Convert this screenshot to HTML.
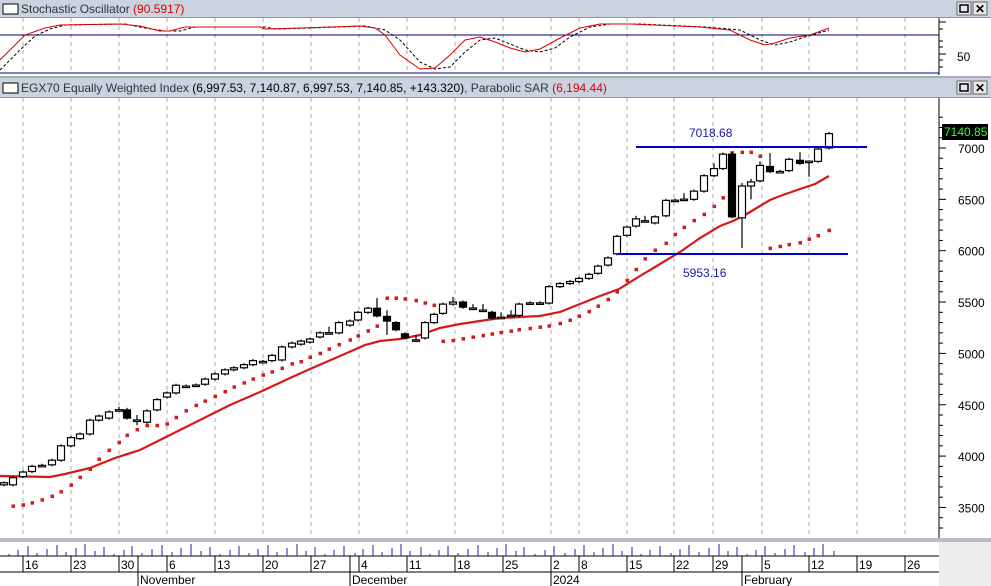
<!DOCTYPE html>
<html><head><meta charset="utf-8"><style>
body{margin:0;background:#fff;overflow:hidden}
svg{display:block;font-family:"Liberation Sans",sans-serif}
</style></head><body>
<svg id="s" width="991" height="586" viewBox="0 0 991 586" xmlns="http://www.w3.org/2000/svg">
<rect width="991" height="586" fill="#fff"/>
<rect x="0" y="0" width="991" height="17" fill="#c9d4e0"/>
<rect x="0" y="17" width="991" height="1" fill="#8a96a4"/>
<rect x="3" y="4" width="15" height="10" fill="#fff" stroke="#000"/>
<text x="21" y="13" font-size="12" fill="#333">Stochastic Oscillator <tspan fill="#d00">(90.5917)</tspan></text>
<rect x="957" y="2" width="14" height="13" fill="#e8e8e8" stroke="#666"/><rect x="960" y="5" width="8" height="7" fill="none" stroke="#000" stroke-width="1.5"/>
<rect x="973" y="2" width="14" height="13" fill="#e8e8e8" stroke="#666"/><text x="975" y="13" font-size="12" font-weight="bold">✕</text>
<rect x="0" y="76" width="991" height="2" fill="#aab"/>
<rect x="0" y="78" width="991" height="19" fill="#c9d4e0"/>
<rect x="0" y="97" width="991" height="1" fill="#8a96a4"/>
<rect x="3" y="83" width="15" height="10" fill="#fff" stroke="#000"/>
<text x="21" y="92" font-size="12" fill="#333">EGX70 Equally Weighted Index <tspan fill="#000">(6,997.53, 7,140.87, 6,997.53, 7,140.85, +143.320)</tspan>, Parabolic SAR <tspan fill="#d00">(6,194.44)</tspan></text>
<rect x="957" y="81" width="14" height="13" fill="#e8e8e8" stroke="#666"/><rect x="960" y="84" width="8" height="7" fill="none" stroke="#000" stroke-width="1.5"/>
<rect x="973" y="81" width="14" height="13" fill="#e8e8e8" stroke="#666"/><text x="975" y="92" font-size="12" font-weight="bold">✕</text>
<g id="grid" stroke="#aaa" stroke-dasharray="4,4" stroke-width="1"></g>
<line x1="0" y1="35" x2="939" y2="35" stroke="#000080"/>
<line x1="0" y1="73" x2="939" y2="73" stroke="#000080"/>
<line x1="939" y1="18" x2="939" y2="75" stroke="#000"/>
<g stroke="#000"><line x1="939" y1="22" x2="946" y2="22"/><line x1="939" y1="29" x2="943" y2="29"/><line x1="939" y1="41" x2="943" y2="41"/><line x1="939" y1="47" x2="943" y2="47"/><line x1="939" y1="54" x2="946" y2="54"/><line x1="939" y1="60" x2="943" y2="60"/><line x1="939" y1="67" x2="943" y2="67"/></g>
<text x="957" y="61" font-size="12">50</text>
<polyline fill="none" stroke="#000" stroke-dasharray="3,2" points="0,70 20,50 35,36 50,29 65,25 125,24 145,28 165,31 180,31 195,27 265,27 275,29 310,28 365,26 385,30 400,40 420,62 435,69 450,67 465,52 480,40 495,38 510,44 525,50 540,52 555,48 570,37 590,27 610,24 640,24 705,27 740,30 760,40 775,45 790,42 805,37 829,30"/>
<polyline fill="none" stroke="#d00" points="0,60 12,48 25,35 45,28 60,25 120,24 140,26 160,31 170,31 185,27 260,27 265,29 300,28 360,26 375,28 385,35 400,55 420,69 435,68 450,55 465,40 480,37 495,42 510,48 525,52 540,49 560,38 580,28 600,24 630,24 700,27 730,30 750,40 765,45 775,43 790,38 810,35 829,28"/>
<line x1="939" y1="98" x2="939" y2="540" stroke="#000"/>
<g id="yax"></g>
<g id="main"></g>
<rect x="0" y="538" width="991" height="4" fill="#b8bcc4"/>
<rect x="939" y="542" width="52" height="44" fill="#ececec"/>
<line x1="0" y1="556" x2="939" y2="556" stroke="#000"/>
<line x1="0" y1="572" x2="939" y2="572" stroke="#000"/>
<g id="xax" font-size="12"></g>
</svg>
<script>
const NS="http://www.w3.org/2000/svg";
function el(p,t,a,txt){const e=document.createElementNS(NS,t);for(const k in a)e.setAttribute(k,a[k]);if(txt!=null)e.textContent=txt;p.appendChild(e);return e;}
const Y=p=>148+(7000-p)*0.1027;
const grid=document.getElementById('grid'),main=document.getElementById('main'),yax=document.getElementById('yax'),xax=document.getElementById('xax');
const gx=[23,71,119,167,215,263,311,359,407,455,503,551,579,627,674,713,762,809,857,905];
const gl=["16","23","30","6","13","20","27","4","11","18","25","2","8","15","22","29","5","12","19","26"];
gx.forEach((x,i)=>{el(grid,'line',{x1:x,y1:18,x2:x,y2:74});el(grid,'line',{x1:x,y1:98,x2:x,y2:538});
el(xax,'line',{x1:x,y1:556,x2:x,y2:572,stroke:'#000'});el(xax,'text',{x:x+2,y:569},gl[i]);});
[[138,"November"],[350,"December"],[551,"2024"],[742,"February"]].forEach(([x,t])=>{el(xax,'line',{x1:x,y1:556,x2:x,y2:586,stroke:'#000'});el(xax,'text',{x:x+2,y:584},t);});
for(let p=3300;p<=7300;p+=100){const y=Y(p);el(yax,'line',{x1:939,y1:y,x2:p%500==0?946:943,y2:y,stroke:'#000'});
 if(p%500==0&&p>=3500&&p<=7000)el(yax,'text',{x:958,y:y+5,'font-size':12},String(p));}
const C=[[4,3720,3740],[13,3720,3790],[23,3800,3845],[32,3850,3900],[42,3905,3910],[52,3915,3960],[61,3960,4100],[71,4100,4180],[80,4170,4215],[90,4215,4350],[99,4350,4390],[109,4370,4430],[119,4450,4452,4480],[127,4450,4370,4470],[137,4350,4352,4400,4300],[147,4330,4440],[157,4450,4550],[167,4575,4615],[176,4615,4690],[186,4680,4682],[196,4690,4692],[205,4700,4750],[215,4750,4800],[225,4800,4840],[234,4840,4860],[244,4860,4890],[253,4890,4930],[263,4920,4922],[272,4930,4980],[282,4936,5063],[292,5063,5100],[301,5090,5120],[310,5110,5140],[320,5160,5200],[329,5200,5202,5260],[339,5200,5300],[350,5275,5315],[358,5325,5400],[368,5400,5440],[377,5440,5365,5540],[387,5360,5315,5420,5180],[396,5300,5230],[405,5190,5150],[416,5130,5132,5180,5120],[425,5150,5300],[434,5300,5380],[443,5390,5480],[453,5480,5500,5550],[463,5500,5450],[473,5440,5442,5480],[483,5420,5422,5480],[492,5400,5345],[501,5350,5352,5400],[511,5370,5372,5420],[519,5370,5480],[530,5490,5492],[540,5490,5492],[549,5490,5650],[560,5650,5680],[570,5680,5700],[579,5700,5730],[589,5730,5770],[598,5780,5850],[608,5860,5930],[617,5970,6140],[627,6150,6230],[636,6240,6310,6340],[645,6290,6292,6340],[655,6270,6330],[666,6340,6490],[675,6490,6492],[684,6500,6502,6560],[694,6500,6580],[704,6580,6730],[714,6730,6800,6850],[723,6800,6940],[732,6940,6330,6960],[742,6320,6630,6660,6025],[751,6630,6670,6700,6500],[760,6680,6830,6870],[770,6820,6770,6950],[780,6770,6772],[789,6780,6890],[800,6880,6850,6960],[809,6870,6872,6880,6720],[818,6870,6990],[829,7000,7140]];
const HL=C.map(c=>{const h=c[3]!=null?c[3]:Math.max(c[1],c[2])+15,l=c[4]!=null?c[4]:Math.min(c[1],c[2])-15;return [h,l];});
let up=true,sar=3510,ep=HL[0][0],af=0.02;const S=[];
for(let i=0;i<C.length;i++){const [h,l]=HL[i];
 if(i>0){sar=sar+af*(ep-sar);
  if(up){if(i>1)sar=Math.min(sar,HL[i-1][1],HL[i-2][1]);
   if(l<sar){up=false;sar=ep;ep=l;af=0.02;}else if(h>ep){ep=h;af=Math.min(0.2,af+0.02);}}
  else{if(i>1)sar=Math.max(sar,HL[i-1][0],HL[i-2][0]);
   if(h>sar){up=true;sar=ep;ep=h;af=0.02;}else if(l<ep){ep=l;af=Math.min(0.2,af+0.02);}}}
 S.push(sar);}
C.forEach((c,i)=>{if(i>0)el(main,'rect',{x:c[0]-1.5,y:Y(S[i])-1.5,width:3.5,height:3.5,fill:'#d01c1c'});});
el(main,'polyline',{fill:'none',stroke:'#d81818','stroke-width':2.2,points:"0,476 50,477 65,474 90,468 100,464 115,458 140,450 160,440 180,430 200,420 230,405 260,392 290,378 310,369 340,356 365,345 380,341 400,339 420,335 440,328 460,324 480,321 500,318 520,317 540,316 560,312 580,304 600,296 619,289 640,276 660,264 680,252 700,238 720,226 733,221 745,215 760,206 770,200 780,196 800,189 815,184 829,176"});
C.forEach((c,i)=>{const [x,o,cl]=c,[h,l]=HL[i];
 el(main,'line',{x1:x,y1:Y(h),x2:x,y2:Y(l),stroke:'#000','stroke-width':1.2});
 const t=Y(Math.max(o,cl)),b=Y(Math.min(o,cl));const bh=Math.max(b-t,1.5);
 el(main,'rect',{x:x-3.5,y:t,width:7,height:bh,fill:cl<o?'#000':'#fff',stroke:'#000','stroke-width':1.2});
 const vh=2+((i*37)%11);el(xax,'line',{x1:x+5,y1:556-vh,x2:x+5,y2:556,stroke:'#2020a0'});});
el(main,'line',{x1:636,y1:147,x2:867,y2:147,stroke:'#0000cc','stroke-width':2});
el(main,'line',{x1:618,y1:254,x2:848,y2:254,stroke:'#0000cc','stroke-width':2});
el(main,'text',{x:689,y:137,'font-size':12,fill:'#1a1aa8'},"7018.68");
el(main,'text',{x:683,y:277,'font-size':12,fill:'#1a1aa8'},"5953.16");
el(main,'rect',{x:942,y:124,width:46,height:16,fill:'#000'});
el(main,'text',{x:944,y:136,'font-size':12,fill:'#3f3'},"7140.85");
</script>
</body></html>
